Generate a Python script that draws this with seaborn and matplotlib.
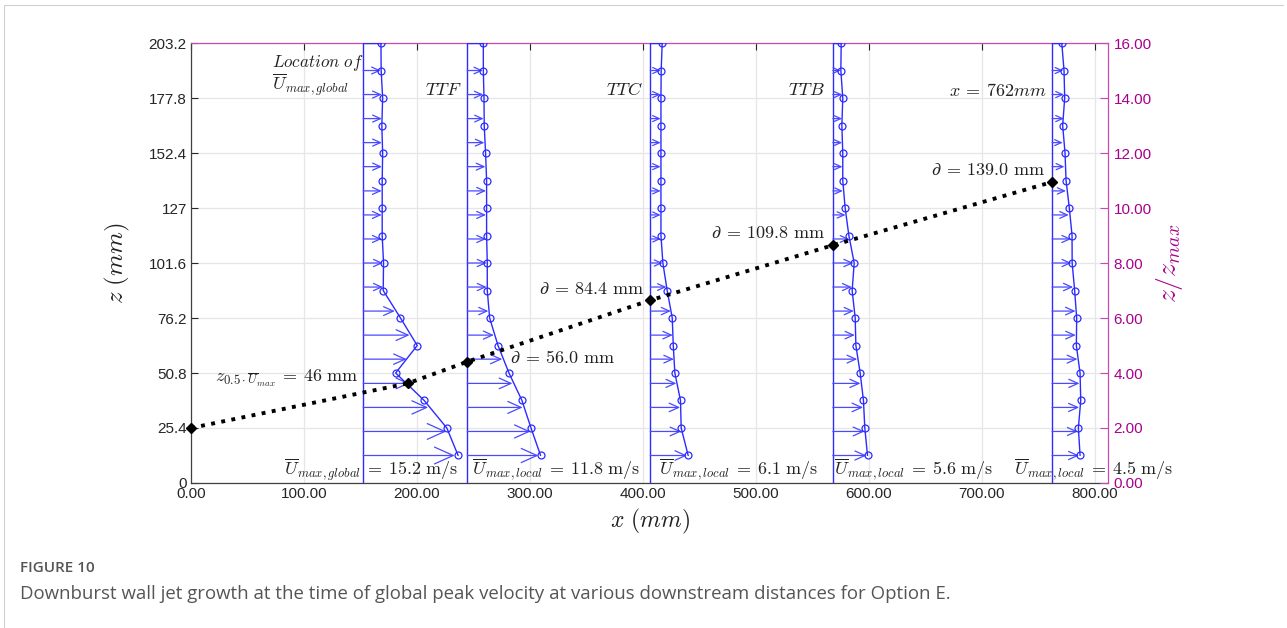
import numpy as np
import pandas as pd
import seaborn as sns
import matplotlib.pyplot as plt

# heights of the measured profile points (mm)
z_pts = [12.7, 25.4, 38.1, 50.8, 63.5, 76.2, 88.9, 101.6,
         114.3, 127.0, 139.7, 152.4, 165.1, 177.8, 190.5, 203.2]
# heights of the quiver arrows (mm)
z_arr = [12.7, 23.8, 34.9, 46.0, 57.2, 68.3, 79.4, 90.5, 101.6,
         112.7, 123.8, 134.9, 146.1, 157.2, 168.3, 179.4, 190.5]

# downstream stations (mm)
x_station = [152.4, 244.5, 406.4, 568.0, 762.0]

# scaled velocity profiles, offset from the station line (mm of x)
prof_ttf = [84.0, 74.0, 54.0, 28.7, 47.8, 33.0, 17.7, 18.0,
            16.8, 16.8, 16.8, 17.2, 16.5, 17.2, 15.9, 15.7]
prof_p2 = [64.9, 56.4, 48.4, 36.9, 27.2, 19.8, 17.7, 17.7,
           17.1, 17.1, 17.1, 16.2, 15.0, 14.8, 14.2, 14.2]
prof_ttc = [33.6, 27.4, 26.8, 21.8, 20.4, 19.5, 15.0, 11.2,
            9.5, 9.5, 9.5, 9.5, 9.5, 9.5, 9.7, 10.6]
prof_ttb = [30.7, 28.3, 27.1, 24.2, 20.4, 19.8, 17.1, 18.9,
            14.2, 10.9, 8.8, 8.8, 8.0, 8.8, 7.1, 7.4]
prof_762 = [24.8, 23.3, 25.4, 24.8, 21.5, 21.8, 20.0, 17.8,
            17.7, 15.3, 12.4, 11.5, 9.4, 11.2, 10.6, 8.6]

# arrow lengths at z_arr (mm of x)
arr_ttf = [81.0, 73.5, 57.5, 41.0, 38.5, 41.0, 28.0, 17.5, 17.5,
           16.4, 16.4, 16.4, 16.6, 16.6, 16.6, 16.5, 15.6]
arr_p2 = [63.0, 56.0, 49.0, 40.0, 31.0, 23.5, 18.7, 17.2, 17.2,
          16.7, 16.6, 16.6, 16.1, 15.2, 14.5, 14.2, 13.8]
arr_ttc = [32.6, 27.5, 26.5, 23.2, 21.0, 20.0, 18.3, 14.4, 11.0,
           9.4, 9.3, 9.3, 9.3, 9.3, 9.3, 9.3, 9.4]
arr_ttb = [29.8, 28.0, 26.8, 24.5, 21.6, 19.5, 18.6, 16.8, 18.3,
           14.5, 11.3, 8.9, 8.6, 8.3, 8.3, 8.4, 7.0]
arr_762 = [24.0, 22.8, 24.0, 24.3, 22.5, 21.0, 20.8, 18.7, 17.2,
           17.0, 14.8, 12.3, 11.0, 9.5, 10.6, 10.6, 10.0]

profiles = [prof_ttf, prof_p2, prof_ttc, prof_ttb, prof_762]
arrow_len = [arr_ttf, arr_p2, arr_ttc, arr_ttb, arr_762]

# half velocity height line
delta_x = [0.0, 191.8, 244.5, 406.4, 568.0, 762.0]
delta_z = [25.4, 46.0, 56.0, 84.4, 109.8, 139.0]

z_ticks = [0, 25.4, 50.8, 76.2, 101.6, 127, 152.4, 177.8, 203.2]
z_tick_labels = ['0', '25.4', '50.8', '76.2', '101.6', '127', '152.4', '177.8', '203.2']
x_ticks = [0, 100, 200, 300, 400, 500, 600, 700, 800]
r_ticks = [0, 2, 4, 6, 8, 10, 12, 14, 16]

sns.set_theme(style='white')
plt.rcParams['font.family'] = ['Liberation Sans', 'DejaVu Sans']
plt.rcParams['mathtext.fontset'] = 'cm'

BLUE = '#2b2bff'
MAG = '#a8008c'
MAG_SPINE = '#c848b4'
GRID = '#e6e6e6'

fig = plt.figure(figsize=(12.87, 6.28), dpi=100)
ax = fig.add_axes([0.1484, 0.2309, 0.7125, 0.7006])
ax.set_xlim(0, 811.5)
ax.set_ylim(0, 203.2)
ax.set_xticks(x_ticks)
ax.set_xticklabels(['%.2f' % v for v in x_ticks])
ax.set_yticks(z_ticks)
ax.set_yticklabels(z_tick_labels)
ax.grid(True, color=GRID, lw=0.9)
ax.set_axisbelow(True)
ax.tick_params(axis='both', direction='in', length=5, width=0.8,
               colors='#262626', labelsize=11, pad=3)
ax.tick_params(axis='x', which='both', top=True)
for t in ax.xaxis.get_ticklines()[1::2]:
    t.set_color(MAG_SPINE)
ax.spines['left'].set_color('#404040')
ax.spines['bottom'].set_color('#404040')
ax.spines['top'].set_color(MAG_SPINE)
ax.spines['right'].set_visible(False)
for s in ax.spines.values():
    s.set_linewidth(0.9)

px_per_mm = (1095 - 191) / 800.0

for xb, pr, al in zip(x_station, profiles, arrow_len):
    # station line, closed at the top
    ax.plot([xb, xb, xb + pr[-1]], [0, 203.2, 203.2], color=BLUE, lw=1.0, zorder=3)
    # arrows
    for z, L in zip(z_arr, al):
        Lpx = L * px_per_mm
        h = (5 + 0.15 * Lpx) * 0.72
        ax.annotate('', xy=(xb + L, z), xytext=(xb, z),
                    arrowprops=dict(arrowstyle='->,head_length=%.2f,head_width=%.2f' % (h, 0.45 * h),
                                    color='#4a4aff', lw=0.9, shrinkA=0, shrinkB=0,
                                    mutation_scale=1), zorder=3)
    df = pd.DataFrame({'x': [xb + v for v in pr], 'z': z_pts})
    sns.lineplot(data=df, x='x', y='z', sort=False, estimator=None, ax=ax,
                 color=BLUE, lw=1.0, marker='o', markersize=5,
                 markerfacecolor='none', markeredgecolor=BLUE, markeredgewidth=0.9,
                 zorder=4)

dl = pd.DataFrame({'x': delta_x, 'z': delta_z})
sns.lineplot(data=dl, x='x', y='z', sort=False, estimator=None, ax=ax,
             color='black', lw=2.8, linestyle=':', zorder=5)
ax.plot(delta_x, delta_z, linestyle='none', marker='D', markersize=5.5,
        color='black', zorder=6, clip_on=False)

tk = dict(fontsize=13, color='#222222', zorder=7)
ax.text(71.7, 194.0, r'$Location\ of$', ha='left', va='center', fontsize=12.3,
        color='#222222', zorder=7)
ax.text(71.7, 184.0, r'$\overline{U}_{max,global}$', ha='left', va='center', **tk)
ax.text(239.6, 181.5, r'$TTF$', ha='right', va='center', **tk)
ax.text(399.7, 181.5, r'$TTC$', ha='right', va='center', **tk)
ax.text(561.1, 181.5, r'$TTB$', ha='right', va='center', **tk)
ax.text(757.3, 181.0, r'$x\:=\:762mm$', ha='right', va='center', **tk)
ax.text(755.8, 144.2, r'$\partial\:=\:139.0\ \mathrm{mm}$', ha='right', va='center', **tk)
ax.text(561.0, 115.0, r'$\partial\:=\:109.8\ \mathrm{mm}$', ha='right', va='center', **tk)
ax.text(400.9, 89.4, r'$\partial\:=\:84.4\ \mathrm{mm}$', ha='right', va='center', **tk)
ax.text(282.3, 57.6, r'$\partial\:=\:56.0\ \mathrm{mm}$', ha='left', va='center', **tk)
ax.text(148.0, 48.3, r'$z_{0.5\cdot\overline{U}_{max}}\:=\:46\ \mathrm{mm}$', ha='right', va='center', **tk)
ax.text(236.5, 6.3, r'$\overline{U}_{max,global}\:=\:15.2\ \mathrm{m/s}$', ha='right', va='center', **tk)
ax.text(397.3, 6.3, r'$\overline{U}_{max,local}\:=\:11.8\ \mathrm{m/s}$', ha='right', va='center', **tk)
ax.text(555.1, 6.3, r'$\overline{U}_{max,local}\:=\:6.1\ \mathrm{m/s}$', ha='right', va='center', **tk)
ax.text(709.5, 6.3, r'$\overline{U}_{max,local}\:=\:5.6\ \mathrm{m/s}$', ha='right', va='center', **tk)
ax.text(869.3, 6.3, r'$\overline{U}_{max,local}\:=\:4.5\ \mathrm{m/s}$', ha='right', va='center',
        clip_on=False, **tk)

ax.set_xlabel(r'$x\ (mm)$', fontsize=17, color='#222222', labelpad=4)
ax.set_ylabel(r'$z\ (mm)$', fontsize=18, color='#222222', labelpad=12)

ax2 = ax.twinx()
ax2.set_ylim(0, 16)
ax2.set_yticks(r_ticks)
ax2.set_yticklabels(['%.2f' % v for v in r_ticks])
ax2.tick_params(axis='y', direction='in', length=6, width=0.8, colors=MAG,
                labelsize=11, pad=4)
ax2.tick_params(axis='y', color=MAG_SPINE)
for side in ['top', 'bottom', 'left']:
    ax2.spines[side].set_visible(False)
ax2.spines['right'].set_color(MAG_SPINE)
ax2.spines['right'].set_linewidth(0.9)
ax2.set_ylabel(r'$z/z_{max}$', fontsize=20, color=MAG, labelpad=2)
ax2.grid(False)

fig.text(20 / 1287, 1 - 568 / 628, 'FIGURE 10', fontsize=11, color='#555555',
         family='Open Sans', weight='semibold', va='center', ha='left')
fig.text(20 / 1287, 1 - 594 / 628,
         'Downburst wall jet growth at the time of global peak velocity at various downstream distances for Option E.',
         fontsize=13.4, color='#555555', family='Open Sans', va='center', ha='left')

# page frame
fig.add_artist(plt.Line2D([4 / 1287, 4 / 1287], [0, 1 - 5 / 628], color='#d0d0d0', lw=0.8))
fig.add_artist(plt.Line2D([4 / 1287, 1283 / 1287], [1 - 5 / 628, 1 - 5 / 628], color='#d0d0d0', lw=0.8))

fig.savefig('out.png', dpi=100, facecolor='white')
